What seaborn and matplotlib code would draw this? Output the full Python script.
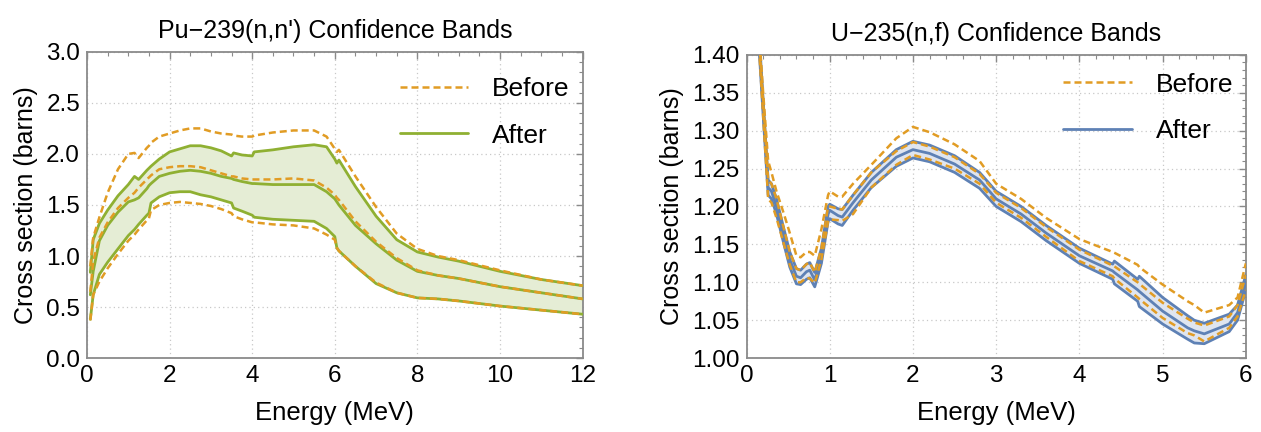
import numpy as np
import matplotlib
matplotlib.use("Agg")
import matplotlib.pyplot as plt
import seaborn as sns
from matplotlib.ticker import MultipleLocator

# ---------------- data: Pu-239(n,n') ----------------
pu_energy = [0.08, 0.15, 0.3, 0.5, 0.75, 1.0, 1.15, 1.25, 1.45, 1.5, 1.55, 1.75, 2.0, 2.25, 2.5,
             2.75, 3.0, 3.25, 3.5, 3.55, 3.75, 4.0, 4.05, 4.5, 5.0, 5.5, 5.8, 6.0, 6.05, 6.1,
             6.5, 7.0, 7.5, 8.0, 8.5, 9.0, 10.0, 11.0, 12.0]
pu_after_upper = [0.84, 1.16, 1.32, 1.45, 1.59, 1.70, 1.78, 1.75, 1.84, 1.86, 1.88, 1.95, 2.02, 2.05, 2.08,
                  2.08, 2.06, 2.03, 1.98, 2.01, 1.99, 1.98, 2.02, 2.04, 2.07, 2.09, 2.07, 1.95, 1.91, 1.94,
                  1.68, 1.39, 1.16, 1.04, 0.99, 0.95, 0.85, 0.77, 0.71]
pu_after_mean = [0.62, 0.85, 1.15, 1.30, 1.43, 1.53, 1.55, 1.57, 1.66, 1.69, 1.71, 1.78, 1.81, 1.83, 1.84,
                 1.83, 1.81, 1.78, 1.76, 1.75, 1.73, 1.71, 1.71, 1.70, 1.70, 1.70, 1.63, 1.56, 1.53, 1.50,
                 1.30, 1.12, 0.96, 0.85, 0.81, 0.78, 0.70, 0.64, 0.58]
pu_after_lower = [0.38, 0.62, 0.82, 0.94, 1.07, 1.20, 1.26, 1.31, 1.40, 1.42, 1.52, 1.58, 1.62, 1.63, 1.63,
                  1.60, 1.58, 1.55, 1.52, 1.47, 1.44, 1.40, 1.38, 1.36, 1.35, 1.34, 1.27, 1.19, 1.08, 1.05,
                  0.90, 0.73, 0.64, 0.59, 0.58, 0.56, 0.51, 0.47, 0.43]
pu_before_upper = [0.90, 1.18, 1.38, 1.62, 1.85, 2.00, 2.01, 1.96, 2.06, 2.08, 2.11, 2.17, 2.20, 2.23, 2.25,
                   2.25, 2.22, 2.20, 2.19, 2.18, 2.17, 2.17, 2.18, 2.21, 2.23, 2.23, 2.17, 2.05, 2.02, 2.04,
                   1.78, 1.48, 1.22, 1.07, 1.00, 0.96, 0.86, 0.77, 0.71]
pu_before_mean = [0.65, 0.95, 1.18, 1.33, 1.47, 1.57, 1.62, 1.67, 1.75, 1.77, 1.79, 1.85, 1.87, 1.88, 1.88,
                  1.87, 1.84, 1.81, 1.78, 1.78, 1.76, 1.75, 1.75, 1.75, 1.76, 1.74, 1.67, 1.60, 1.57, 1.55,
                  1.34, 1.14, 0.98, 0.86, 0.81, 0.78, 0.70, 0.64, 0.58]
pu_before_lower = [0.37, 0.62, 0.75, 0.88, 1.02, 1.15, 1.21, 1.26, 1.35, 1.37, 1.45, 1.50, 1.52, 1.53, 1.52,
                   1.51, 1.49, 1.46, 1.42, 1.39, 1.36, 1.33, 1.33, 1.31, 1.30, 1.27, 1.21, 1.16, 1.08, 1.05,
                   0.90, 0.74, 0.64, 0.59, 0.58, 0.56, 0.51, 0.47, 0.43]

# ---------------- data: U-235(n,f) ----------------
u_energy = [0.15, 0.20, 0.26, 0.30, 0.36, 0.45, 0.52, 0.60, 0.65, 0.72, 0.76, 0.82, 0.90, 0.98, 1.00,
            1.10, 1.15, 1.28, 1.50, 1.80, 2.00, 2.20, 2.50, 2.80, 3.00, 3.30, 3.60, 4.00, 4.40, 4.42,
            4.70, 4.72, 5.00, 5.30, 5.38, 5.50, 5.80, 5.90, 6.00]
u_after_mean = [1.42, 1.33, 1.225, 1.22, 1.20, 1.16, 1.13, 1.108, 1.106, 1.114, 1.116, 1.103, 1.135, 1.19, 1.195,
                1.188, 1.186, 1.205, 1.235, 1.265, 1.275, 1.270, 1.256, 1.235, 1.21, 1.19, 1.165, 1.135, 1.115, 1.113,
                1.09, 1.088, 1.062, 1.04, 1.036, 1.032, 1.045, 1.06, 1.10]
u_after_upper = [1.43, 1.34, 1.235, 1.23, 1.21, 1.17, 1.14, 1.118, 1.116, 1.124, 1.126, 1.113, 1.145, 1.20, 1.203,
                 1.197, 1.196, 1.215, 1.245, 1.275, 1.286, 1.281, 1.267, 1.245, 1.22, 1.20, 1.175, 1.145, 1.124, 1.128,
                 1.104, 1.108, 1.08, 1.056, 1.05, 1.046, 1.058, 1.07, 1.11]
u_after_lower = [1.41, 1.32, 1.215, 1.21, 1.19, 1.15, 1.12, 1.098, 1.097, 1.104, 1.106, 1.094, 1.125, 1.18, 1.184,
                 1.177, 1.175, 1.195, 1.225, 1.253, 1.264, 1.259, 1.245, 1.224, 1.20, 1.18, 1.155, 1.125, 1.104, 1.098,
                 1.075, 1.068, 1.045, 1.025, 1.020, 1.019, 1.035, 1.05, 1.09]
u_before_upper = [1.43, 1.35, 1.26, 1.245, 1.22, 1.19, 1.165, 1.135, 1.133, 1.14, 1.14, 1.135, 1.17, 1.215, 1.22,
                  1.213, 1.213, 1.23, 1.255, 1.29, 1.305, 1.298, 1.282, 1.26, 1.23, 1.21, 1.185, 1.157, 1.14, 1.139,
                  1.123, 1.12, 1.097, 1.075, 1.07, 1.06, 1.07, 1.08, 1.125]
u_before_mean = [1.42, 1.34, 1.235, 1.23, 1.21, 1.17, 1.14, 1.118, 1.116, 1.124, 1.126, 1.113, 1.145, 1.20, 1.20,
                 1.197, 1.196, 1.215, 1.245, 1.273, 1.285, 1.279, 1.265, 1.243, 1.218, 1.198, 1.173, 1.143, 1.122, 1.121,
                 1.10, 1.098, 1.073, 1.052, 1.047, 1.043, 1.055, 1.07, 1.11]
u_before_lower = [1.41, 1.32, 1.21, 1.205, 1.185, 1.15, 1.123, 1.10, 1.10, 1.106, 1.105, 1.099, 1.13, 1.18, 1.183,
                  1.182, 1.181, 1.19, 1.225, 1.255, 1.268, 1.262, 1.25, 1.23, 1.205, 1.185, 1.16, 1.128, 1.108, 1.105,
                  1.08, 1.078, 1.053, 1.033, 1.03, 1.022, 1.04, 1.055, 1.09]

ORANGE = "#E19C24"
GREEN = "#8FB032"
BLUE = "#5E81B5"

sns.set_theme(style="white")
plt.rcParams["font.family"] = ["Liberation Sans", "DejaVu Sans"]
plt.rcParams["axes.unicode_minus"] = True
plt.rcParams["text.color"] = "black"
plt.rcParams["axes.labelcolor"] = "black"
plt.rcParams["xtick.labelcolor"] = "black"
plt.rcParams["ytick.labelcolor"] = "black"

fig = plt.figure(figsize=(12.61, 4.32), dpi=100)
ax1 = fig.add_axes([0.069, 0.171, 0.393, 0.709])
ax2 = fig.add_axes([0.592, 0.171, 0.396, 0.702])


def style_axes(ax, xmaj, xmin, ymaj, ymin, xlim, ylim, yfmt):
    ax.set_xlim(*xlim)
    ax.set_ylim(*ylim)
    ax.xaxis.set_major_locator(MultipleLocator(xmaj))
    ax.xaxis.set_minor_locator(MultipleLocator(xmin))
    ax.yaxis.set_major_locator(MultipleLocator(ymaj))
    ax.yaxis.set_minor_locator(MultipleLocator(ymin))
    ax.yaxis.set_major_formatter(plt.FormatStrFormatter(yfmt))
    ax.grid(True, which="major", color="#c8c8c8", linestyle=(0, (1, 2.5)), linewidth=0.9)
    for s in ax.spines.values():
        s.set_color("#8a8a8a")
        s.set_linewidth(1.3)
    ax.tick_params(which="both", direction="in", top=True, right=True, color="#8a8a8a",
                   labelsize=17.5, pad=5, labelcolor="black")
    ax.tick_params(which="major", length=5, width=1.0)
    ax.tick_params(which="minor", length=3, width=0.8)
    ax.set_xlabel("Energy (MeV)", fontsize=18.5, labelpad=10, color="black")
    ax.set_ylabel("Cross section (barns)", fontsize=18, labelpad=6, color="black")


def draw(ax, x, bu, bm, bl, au, am, al, color, fill):
    ax.fill_between(x, al, au, color=fill, linewidth=0, zorder=1)
    for i, y in enumerate([au, am, al]):
        sns.lineplot(x=x, y=y, ax=ax, color=color, linewidth=2.0, zorder=3, legend=False)
    for i, y in enumerate([bu, bm, bl]):
        sns.lineplot(x=x, y=y, ax=ax, color=ORANGE, linewidth=1.8, zorder=4, legend=False)
    for ln in ax.get_lines()[3:]:
        ln.set_linestyle((0, (2.8, 1.6)))


draw(ax1, pu_energy, pu_before_upper, pu_before_mean, pu_before_lower,
     pu_after_upper, pu_after_mean, pu_after_lower, GREEN, "#e5edd5")
draw(ax2, u_energy, u_before_upper, u_before_mean, u_before_lower,
     u_after_upper, u_after_mean, u_after_lower, BLUE, "#dfe5ef")

style_axes(ax1, 2, 0.5, 0.5, 0.1, (0, 12), (0, 3.0), "%.1f")
style_axes(ax2, 1, 0.2, 0.05, 0.01, (0, 6), (1.0, 1.4), "%.2f")
ax1.set_title("Pu\u2212239(n,n') Confidence Bands", fontsize=18, pad=10, color="black")
ax2.set_title("U\u2212235(n,f) Confidence Bands", fontsize=18, pad=10, color="black")

for ax, ytop in ((ax1, 0.995), (ax2, 1.02)):
    lines = ax.get_lines()
    handles = [lines[3], lines[0]]
    ax.legend(handles, ["Before", "After"], loc="upper right", frameon=False,
              fontsize=19, handlelength=2.6, handletextpad=0.9, labelspacing=0.85,
              bbox_to_anchor=(1.022, ytop), labelcolor="black")

fig.savefig("out.png", dpi=100, facecolor="white")
